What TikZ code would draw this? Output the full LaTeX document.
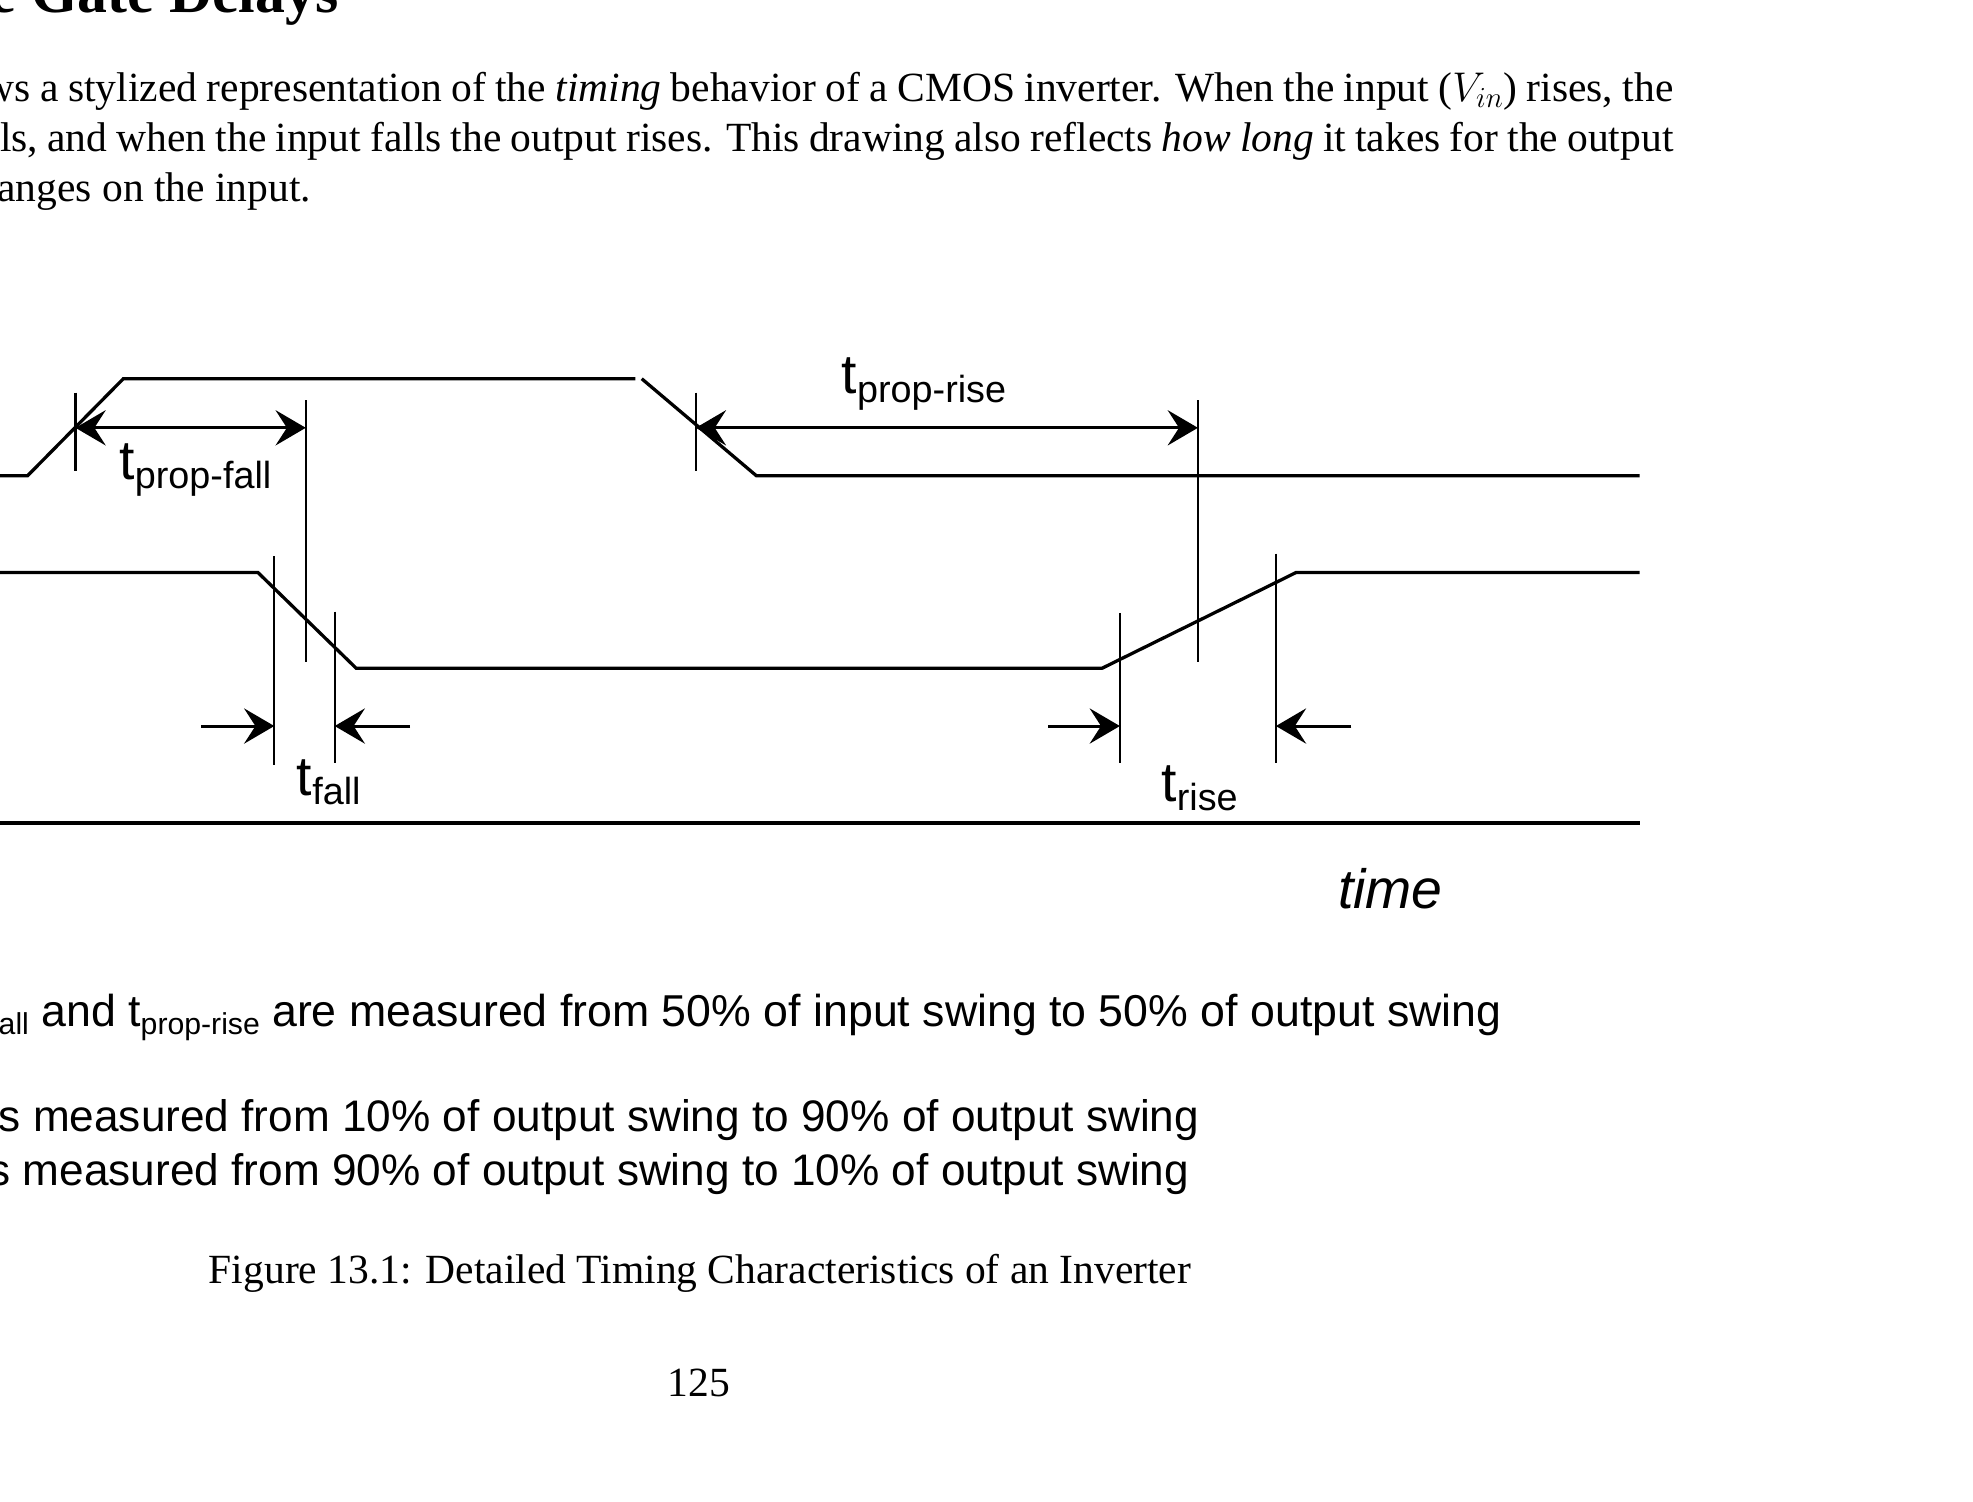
\RequirePackage{fix-cm}
\documentclass[tikz,border=0pt]{standalone}
\usepackage{fontspec}
\setmainfont{Liberation Serif}
\newfontfamily\arialf{Liberation Sans}
\usetikzlibrary{arrows.meta}

\tikzset{
  wave/.style={line width=2.6pt, line join=miter},
  guide/.style={line width=1.6pt},
  dimboth/.style={line width=2.4pt, {Stealth[length=24pt,width=28pt,inset=9pt]}-{Stealth[length=24pt,width=28pt,inset=9pt]}},
  dimone/.style={line width=2.4pt, -{Stealth[length=24pt,width=28pt,inset=9pt]}},
  axisline/.style={line width=3pt},
  txt/.style={inner sep=0pt, outer sep=0pt, anchor=base west},
  serif/.style={font=\fontsize{33}{40}\selectfont},
  sans/.style={font=\arialf\fontsize{35.5}{40}\selectfont},
  sansb/.style={font=\arialf\fontsize{35.1}{40}\selectfont},
}
\newcommand{\tlab}[1]{{\arialf\fontsize{44}{44}\selectfont t\raisebox{-7pt}{\fontsize{30}{30}\selectfont #1}}}
\newcommand{\bsub}[1]{\raisebox{-6pt}{\fontsize{24}{24}\selectfont #1}}

\begin{document}
\begin{tikzpicture}[x=1pt,y=-1pt]
\useasboundingbox (0,0) rectangle (1568,1193);
\begin{scope}
\clip (0,0) rectangle (1568,1193);

% heading and paragraph
\node[txt, font=\bfseries\fontsize{47.5}{50}\selectfont] (head) at (-8,10) {e Gate Delays};
\node[txt, serif] (p1) at (-12,80.5) {\makebox[1342pt][s]{ws a stylized representation of the \textit{timing} behavior of a CMOS inverter. When the input ($V_{in}$) rises, the}};
\node[txt, serif] (p2) at (0,120.5) {\makebox[1330pt][s]{ls, and when the input falls the output rises. This drawing also reflects \textit{how long} it takes for the output}};
\node[txt, serif] (p3) at (-2,160.5) {anges on the input.};

% input waveform
\coordinate (i0) at (0,378);
\coordinate (i1) at (22,378);
\coordinate (i2) at (98,301);
\coordinate (i3) at (505,301);
\coordinate (i4) at (510,301);
\coordinate (i5) at (601,378);
\coordinate (i6) at (1303,378);
\draw[wave] (i0) -- (i1) -- (i2) -- (i3);
\draw[wave] (i4) -- (i5) -- (i6);

% output waveform
\coordinate (o0) at (0,455);
\coordinate (o1) at (205,455);
\coordinate (o2) at (283,531);
\coordinate (o3) at (876,531);
\coordinate (o4) at (1030,455);
\coordinate (o5) at (1303,455);
\draw[wave] (o0) -- (o1) -- (o2) -- (o3) -- (o4) -- (o5);

% guide lines
\coordinate (g1a) at (60,312);   \coordinate (g1b) at (60,374);
\coordinate (g2a) at (553,312);  \coordinate (g2b) at (553,374);
\coordinate (v1a) at (243,318);  \coordinate (v1b) at (243,526);
\coordinate (v2a) at (952,318);  \coordinate (v2b) at (952,526);
\coordinate (f1a) at (218,442);  \coordinate (f1b) at (218,608);
\coordinate (f2a) at (266,486);  \coordinate (f2b) at (266,606);
\coordinate (r1a) at (890,487);  \coordinate (r1b) at (890,606);
\coordinate (r2a) at (1014,440); \coordinate (r2b) at (1014,606);
\foreach \g in {g1,g2,v1,v2,f1,f2,r1,r2}
  \draw[guide] (\g a) -- (\g b);

% propagation dimension arrows
\coordinate (pf0) at (60,340);  \coordinate (pf1) at (243,340);
\coordinate (pr0) at (553,340); \coordinate (pr1) at (952,340);
\draw[dimboth] (pf0) -- (pf1);
\draw[dimboth] (pr0) -- (pr1);

% fall / rise arrows
\coordinate (fa0) at (160,577);  \coordinate (fa1) at (218,577);
\coordinate (fb0) at (326,577);  \coordinate (fb1) at (266,577);
\coordinate (ra0) at (833,577);  \coordinate (ra1) at (890,577);
\coordinate (rb0) at (1074,577); \coordinate (rb1) at (1014,577);
\draw[dimone] (fa0) -- (fa1);
\draw[dimone] (fb0) -- (fb1);
\draw[dimone] (ra0) -- (ra1);
\draw[dimone] (rb0) -- (rb1);

% time axis
\coordinate (ax0) at (0,654);
\coordinate (ax1) at (1303,654);
\draw[axisline] (ax0) -- (ax1);

% labels
\node[txt] (tpf) at (95,381) {\tlab{prop-fall}};
\node[txt] (tpr) at (669,313) {\tlab{prop-rise}};
\node[txt] (tf) at (236,632) {\tlab{fall}};
\node[txt] (tr) at (923,637) {\tlab{rise}};
\node[anchor=base, inner sep=0pt, font=\arialf\itshape\fontsize{44}{44}\selectfont] (time) at (1105,722) {time};

% notes
\node[txt, sans] (n1) at (-1,816) {\bsub{all} and t\bsub{prop-rise} are measured from 50\% of input swing to 50\% of output swing};
\node[txt, sansb] (n2) at (-1,899) {s measured from 10\% of output swing to 90\% of output swing};
\node[txt, sansb] (n3) at (-9,942) {s measured from 90\% of output swing to 10\% of output swing};

% caption and page number
\node[txt, serif] (cap) at (166,1020) {Figure 13.1: Detailed Timing Characteristics of an Inverter};
\node[anchor=base, inner sep=0pt, serif] (pg) at (555.5,1110) {125};
\end{scope}
\end{tikzpicture}
\end{document}
